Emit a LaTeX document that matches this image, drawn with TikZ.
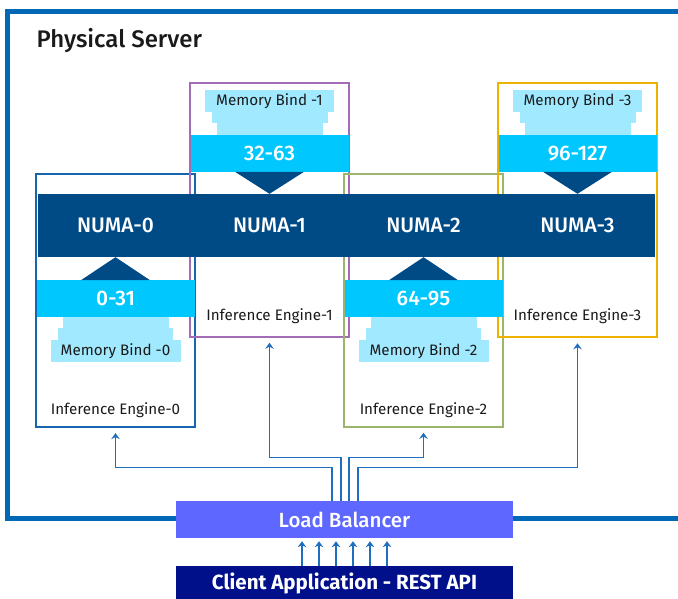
\documentclass[tikz,border=0pt]{standalone}
\usepackage{fontspec}
\setmainfont{Fira Sans}
\newfontfamily\medfont{Fira Sans Medium}
\usepackage{tikz}
\usetikzlibrary{shapes,arrows.meta}

\definecolor{srvblue}{HTML}{0068B5}
\definecolor{numablue}{HTML}{004A86}
\definecolor{corecyan}{HTML}{00C7FD}
\definecolor{memcyan}{HTML}{A0E9FF}
\definecolor{ieblue}{HTML}{1565B0}
\definecolor{iepurple}{HTML}{A36CB9}
\definecolor{iegreen}{HTML}{9DB56A}
\definecolor{ieyellow}{HTML}{EDB100}
\definecolor{lbviolet}{HTML}{5E67FF}
\definecolor{clientnavy}{HTML}{000F8A}
\definecolor{linkblue}{HTML}{1F6FBE}
\definecolor{txtdark}{HTML}{1A1A1A}

\newcommand{\smalltxt}{\fontsize{15.2}{18}\selectfont}
\newcommand{\bigtxt}{\fontsize{21}{24}\selectfont\medfont}

\tikzstyle{engine} = [rectangle, minimum width=159pt, inner sep=0pt]
\tikzstyle{numa} = [rectangle, fill=numablue, text=white, minimum width=155pt, minimum height=63pt, inner sep=0pt, font=\bigtxt]
\tikzstyle{cores} = [rectangle, fill=corecyan, text=white, minimum width=158pt, minimum height=37pt, inner sep=0pt, font=\bigtxt]
\tikzstyle{mem} = [rectangle, fill=memcyan, text=txtdark, inner sep=0pt, font=\smalltxt]
\tikzstyle{arrow} = [line width=1.3pt, draw=linkblue, -{Stealth[length=6pt,width=8.5pt,inset=2pt]}]

\begin{document}
\begin{tikzpicture}[x=1pt,y=-1pt]
        \useasboundingbox (0,0) rectangle (678,599);
        % server frame
        \draw[srvblue, line width=5pt] (690,12) -- (7,12) -- (7,518) -- (690,518);
        \node (PS) [anchor=west, font=\fontsize{24}{28}\selectfont\medfont, text=txtdark] at (33,41) {Physical Server};

        % inference engines
        \node (IE0) [engine, minimum height=253pt, draw=ieblue, line width=2.2pt] at (115.5,300.5) {};
        \node (IE1) [engine, minimum height=254pt, draw=iepurple, line width=1.5pt] at (269.5,210) {};
        \node (IE2) [engine, minimum height=253pt, draw=iegreen, line width=1.5pt] at (423.5,300.5) {};
        \node (IE3) [engine, minimum height=254pt, draw=ieyellow, line width=2.5pt] at (577.5,210) {};

        \node (N0) [numa] at (115.5,225.5) {NUMA-0};
        \node (N1) [numa] at (269.5,225.5) {NUMA-1};
        \node (N2) [numa] at (423.5,225.5) {NUMA-2};
        \node (N3) [numa] at (577.5,225.5) {NUMA-3};

        \node (C0) [cores] at (115.5,298.5) {0-31};
        \node (C1) [cores] at (269.5,153.5) {32-63};
        \node (C2) [cores] at (423.5,298.5) {64-95};
        \node (C3) [cores] at (577.5,153.5) {96-127};

        \fill[numablue] (N0.south) -- ++(-34.5,23) -- ++(69,0) -- cycle;
        \fill[numablue] (N1.north) -- ++(-34.5,-22) -- ++(69,0) -- cycle;
        \fill[numablue] (N2.south) -- ++(-34.5,23) -- ++(69,0) -- cycle;
        \fill[numablue] (N3.north) -- ++(-34.5,-22) -- ++(69,0) -- cycle;

        % memory binds
        \node (MB0a) [mem, minimum width=106pt, minimum height=11.5pt] at (115.5,322.5) {};
        \node (MB0b) [mem, minimum width=115pt, minimum height=12pt] at (115.5,334) {};
        \node (MB0) [mem, minimum width=130pt, minimum height=22pt] at (115.5,351) {Memory Bind -0};
        \node (MB1) [mem, minimum width=129pt, minimum height=22pt] at (269.5,101) {Memory Bind -1};
        \node (MB1b) [mem, minimum width=116pt, minimum height=11pt] at (269.5,117.5) {};
        \node (MB1a) [mem, minimum width=106pt, minimum height=12pt] at (269.5,129) {};
        \node (MB2a) [mem, minimum width=106pt, minimum height=11.5pt] at (423.5,322.5) {};
        \node (MB2b) [mem, minimum width=115pt, minimum height=12pt] at (423.5,334) {};
        \node (MB2) [mem, minimum width=130pt, minimum height=22pt] at (423.5,351) {Memory Bind -2};
        \node (MB3) [mem, minimum width=129pt, minimum height=22pt] at (577.5,101) {Memory Bind -3};
        \node (MB3b) [mem, minimum width=116pt, minimum height=11pt] at (577.5,117.5) {};
        \node (MB3a) [mem, minimum width=106pt, minimum height=12pt] at (577.5,129) {};

        \node (E0) [font=\smalltxt, text=txtdark] at (115.5,410) {Inference Engine-0};
        \node (E1) [font=\smalltxt, text=txtdark] at (269.5,316) {Inference Engine-1};
        \node (E2) [font=\smalltxt, text=txtdark] at (423.5,410) {Inference Engine-2};
        \node (E3) [font=\smalltxt, text=txtdark] at (577.5,316) {Inference Engine-3};

        % balancer and client
        \node (LB) [rectangle, fill=lbviolet, text=white, minimum width=337pt, minimum height=37pt, inner sep=0pt, font=\fontsize{20.5}{23}\selectfont\medfont] at (344.5,519.5) {Load Balancer};
        \node (CA) [rectangle, fill=clientnavy, text=white, minimum width=337pt, minimum height=34pt, inner sep=0pt, font=\fontsize{20.5}{23}\selectfont\bfseries] at (344.5,583) {Client Application - REST API};

        \draw[arrow, shorten >=5pt] ([xshift=-12.5pt]LB.north) -- ++(0,-33) -| (IE0.south);
        \draw[arrow, shorten >=5pt] ([xshift=-3.5pt]LB.north) -- ++(0,-43) -| (IE1.south);
        \draw[arrow, shorten >=5pt] ([xshift=4.5pt]LB.north) -- ++(0,-43) -| (IE2.south);
        \draw[arrow, shorten >=5pt] ([xshift=13.5pt]LB.north) -- ++(0,-33) -| (IE3.south);

        \draw[arrow, shorten >=3pt] ([xshift=-42.5pt]CA.north) -- ([xshift=-42.5pt]LB.south);
        \draw[arrow, shorten >=3pt] ([xshift=-25.5pt]CA.north) -- ([xshift=-25.5pt]LB.south);
        \draw[arrow, shorten >=3pt] ([xshift=-8.5pt]CA.north) -- ([xshift=-8.5pt]LB.south);
        \draw[arrow, shorten >=3pt] ([xshift=8.5pt]CA.north) -- ([xshift=8.5pt]LB.south);
        \draw[arrow, shorten >=3pt] ([xshift=25.5pt]CA.north) -- ([xshift=25.5pt]LB.south);
        \draw[arrow, shorten >=3pt] ([xshift=42.5pt]CA.north) -- ([xshift=42.5pt]LB.south);
\end{tikzpicture}
\end{document}
